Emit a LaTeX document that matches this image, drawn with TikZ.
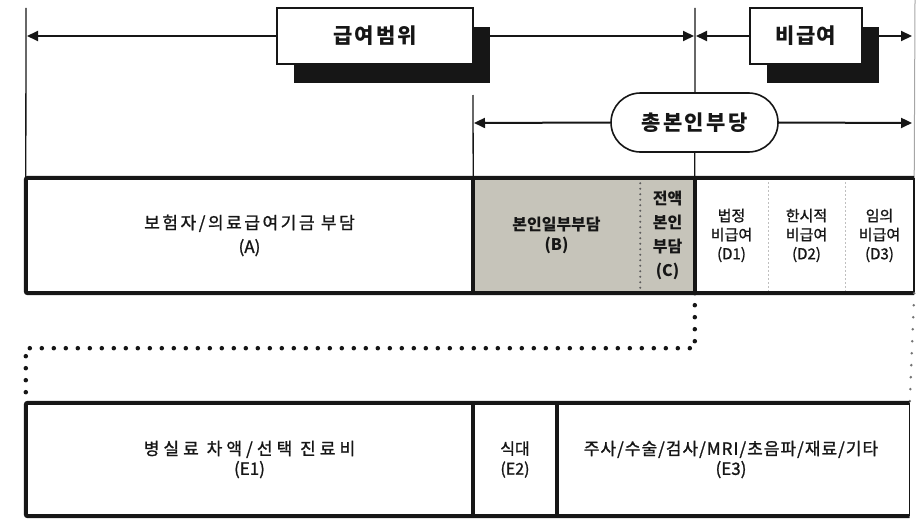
\documentclass[tikz,border=0pt]{standalone}
\usepackage{fontspec}
\setmainfont{Noto Sans CJK KR}
\usetikzlibrary{arrows.meta,shapes.misc}
\newcommand\lsp[1]{\addfontfeature{LetterSpace=#1}}
\newcommand\heavy{\addfontfeature{FakeBold=1.2}}
\definecolor{cellgray}{RGB}{198,196,186}
\definecolor{ink}{RGB}{22,22,22}
\begin{document}
\begin{tikzpicture}[x=1pt,y=-1pt,
  hdr/.style={draw=ink, line width=1.6pt, fill=white, inner sep=0pt, text=ink},
  shd/.style={fill=ink, inner sep=0pt},
  cell/.style={inner sep=0pt, align=center, text=ink},
  frame/.style={line width=4pt, draw=ink, rounded corners=2pt},
  divider/.style={line width=4pt, draw=ink},
  thinv/.style={line width=1.3pt, draw=ink},
  arr/.style={line width=2pt, draw=ink, -{Triangle[length=11pt,width=10pt]}},
  dotline/.style={line width=4.5pt, draw=ink, dash pattern=on 0pt off 12pt, line cap=round},
  smalldots/.style={line width=2.2pt, draw=ink!70, dash pattern=on 0pt off 5.5pt, line cap=round},
  faint/.style={line width=0.8pt, draw=black!25, dash pattern=on 2pt off 2pt},
]
\useasboundingbox (0,0) rectangle (917,519);

% ---- row 1 cells ----
\node[cell, minimum width=447pt, minimum height=115pt,
      font={\fontsize{17}{24}\selectfont\heavy}] (A) at (249.5,235.5) {{\lsp{15}보험자/의료급여기금 부담}\\(A)};
\node[cell, fill=cellgray, minimum width=167pt, minimum height=115pt,
      font={\fontsize{16}{20}\selectfont\bfseries}] (B) at (556.5,235.5) {본인일부부담\\(B)};
\node[cell, fill=cellgray, minimum width=55pt, minimum height=115pt,
      font={\fontsize{16}{24}\selectfont\bfseries}] (C) at (667.5,235.5) {전액\\본인\\부담\\(C)};
\node[cell, minimum width=73pt, minimum height=115pt,
      font={\fontsize{15}{19}\selectfont\heavy}] (D1) at (731.5,235.5) {법정\\비급여\\(D1)};
\node[cell, minimum width=77pt, minimum height=115pt,
      font={\fontsize{15}{19}\selectfont\heavy}] (D2) at (806.5,235.5) {한시적\\비급여\\(D2)};
\node[cell, minimum width=69pt, minimum height=115pt,
      font={\fontsize{15}{19}\selectfont\heavy}] (D3) at (879.5,235.5) {임의\\비급여\\(D3)};

% ---- row 2 cells ----
\node[cell, minimum width=447pt, minimum height=113pt,
      font={\fontsize{17}{20}\selectfont\heavy}] (E1) at (249.5,459.5) {{\lsp{24}병실료 차액/선택 진료비}\\(E1)};
\node[cell, minimum width=84pt, minimum height=113pt,
      font={\fontsize{16}{20}\selectfont\heavy}] (E2) at (515,459.5) {식대\\(E2)};
\node[cell, minimum width=357pt, minimum height=113pt,
      font={\fontsize{17}{20}\selectfont\heavy}] (E3) at (731,459.5) {{\lsp{6}주사/수술/검사/MRI/초음파/재료/기타}\\(E3)};

% ---- guide lines ----
\coordinate (lt) at (26,8);
\coordinate (mt) at (695,8);
\coordinate (bt) at (473,95);
\coordinate (rt) at (915,0);
\draw[thinv] (lt) -- (A.north west);
\draw[thinv] (mt) -- (D1.north west);
\draw[thinv] (bt) -- (A.north east);
\draw[line width=1pt, draw=black!35] (rt) -- (D3.north east);

% ---- header boxes ----
\node[shd, minimum width=196pt, minimum height=56pt] (gs) at (392,55) {};
\node[hdr, minimum width=196pt, minimum height=56pt,
      font={\fontsize{21}{24}\selectfont\bfseries\lsp{10}}] (g) at (375,36) {급여범위};
\node[shd, minimum width=112pt, minimum height=56pt] (bs) at (823,55) {};
\node[hdr, minimum width=112pt, minimum height=56pt,
      font={\fontsize{21}{24}\selectfont\bfseries\lsp{5}}] (b) at (806,36) {비급여};
\node[hdr, rounded rectangle, minimum width=167pt, minimum height=59pt,
      font={\fontsize{21}{24}\selectfont\bfseries\lsp{11}}] (t) at (694.5,122.5) {총본인부당};

% ---- arrows ----
\coordinate (aL) at (27,36);
\coordinate (aM1) at (694,36);
\coordinate (aM2) at (696,36);
\coordinate (aR1) at (912,36);
\coordinate (tL) at (474,123);
\coordinate (tR) at (912,123);
\draw[arr] (g.west) -- (aL);
\draw[arr] (gs.east |- g.east) -- (aM1);
\draw[arr] (b.west) -- (aM2);
\draw[arr] (bs.east |- b.east) -- (aR1);
\draw[arr] (t.west) -- (tL);
\draw[arr] (t.east) -- (tR);

% ---- row 1 frame ----
\draw[smalldots] (B.north east) -- (B.south east);
\draw[faint] (D1.north east) -- (D1.south east);
\draw[faint] (D2.north east) -- (D2.south east);
\draw[frame] (D3.north east) -- (A.north west) -- (A.south west) -- (D3.south east);
\draw[line width=1.5pt, draw=ink] (D3.north east) -- (D3.south east);
\draw[divider] (A.north east) -- (A.south east);
\draw[divider] (C.north east) -- (C.south east);

% ---- dotted links ----
\draw[dotline] (D1.south west) -- ++(0,55) -| (E1.north west);
\draw[dotline, line width=2.8pt, draw=black!55] (D3.south east) -- (E3.north east);

% ---- row 2 frame ----
\draw[frame] (E3.north east) -- (E1.north west) -- (E1.south west) -- (E3.south east);
\draw[line width=1.5pt, draw=ink] (E3.north east) -- (E3.south east);
\draw[divider] (E1.north east) -- (E1.south east);
\draw[divider] (E2.north east) -- (E2.south east);
\end{tikzpicture}
\end{document}
